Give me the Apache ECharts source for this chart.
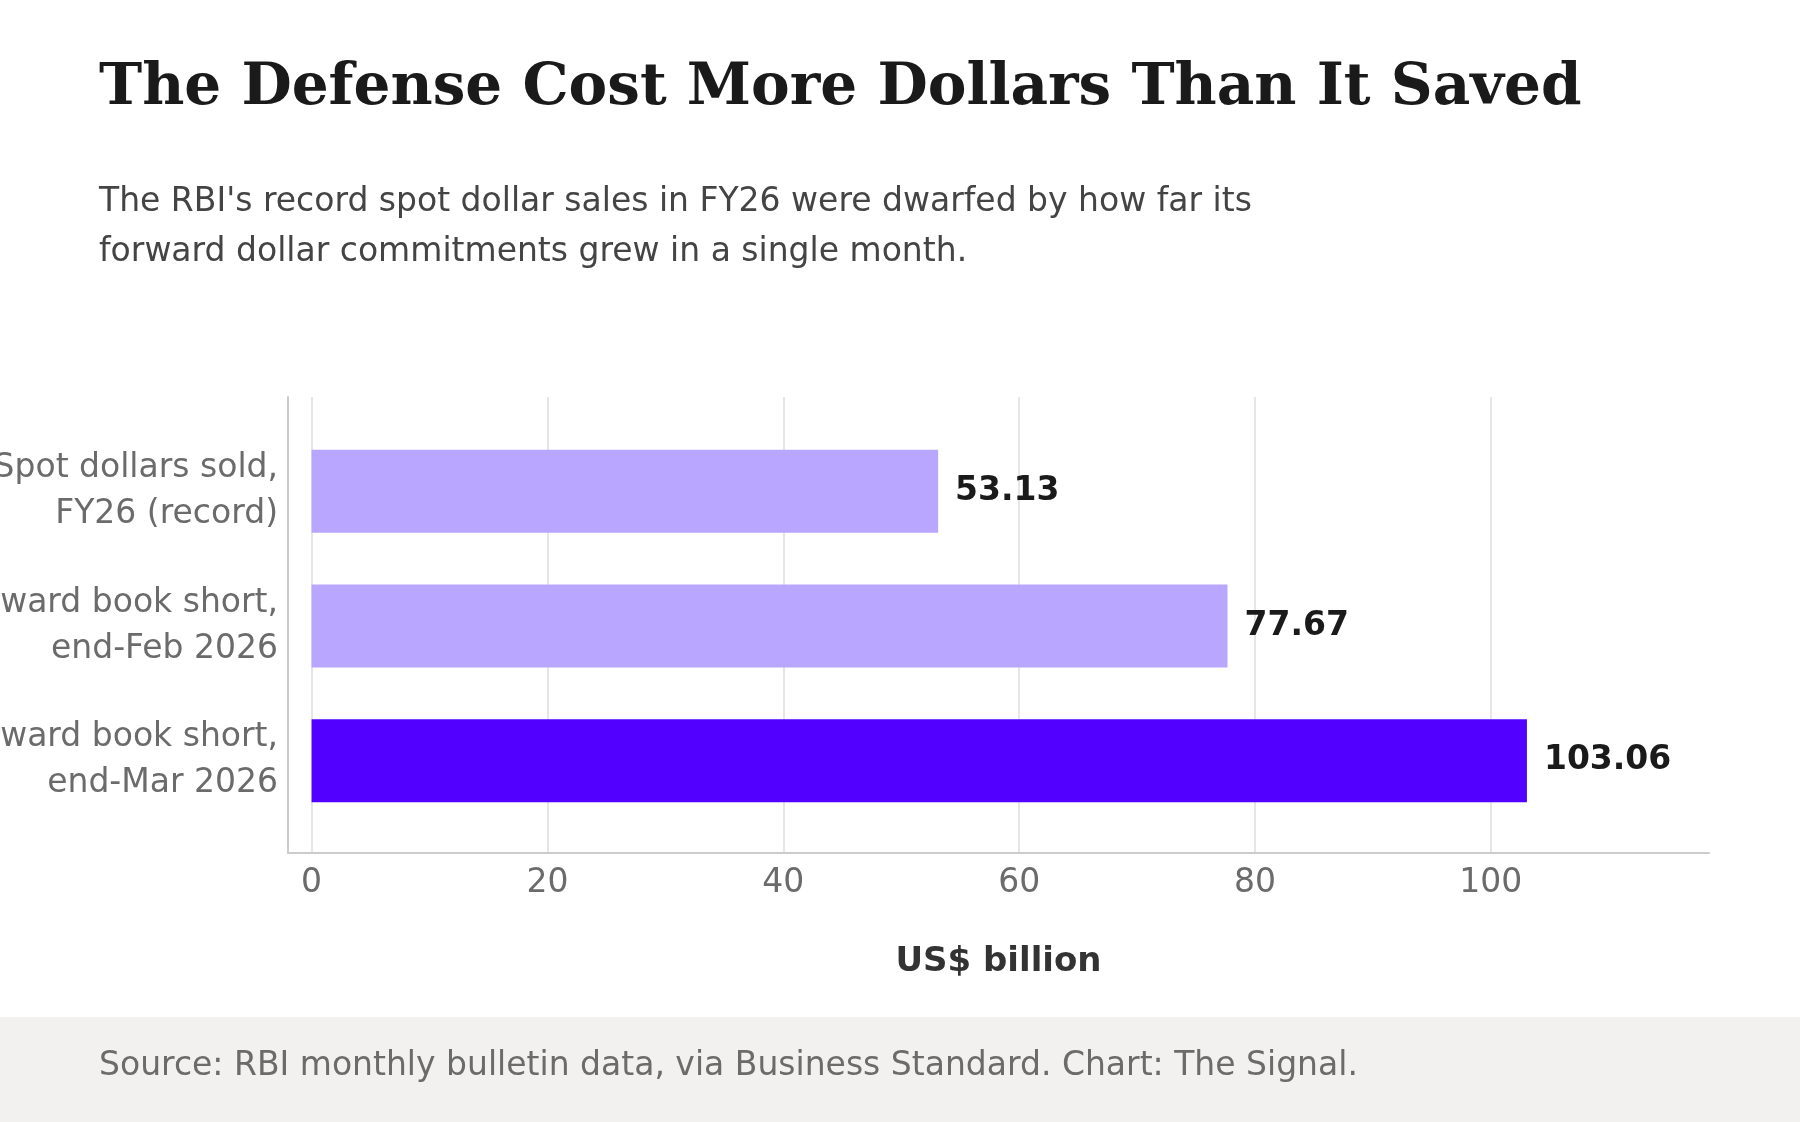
<!DOCTYPE html>
<html>
<head>
<meta charset="utf-8">
<script src="https://cdn.jsdelivr.net/npm/echarts@6/dist/echarts.min.js"></script>
<style>
  html, body { margin: 0; padding: 0; background: #fff; }
  #chart { width: 1800px; height: 1122px; }
</style>
</head>
<body>
<div id="chart"></div>
<script>
var categories = ['Spot dollars sold,\nFY26 (record)', 'Forward book short,\nend-Feb 2026', 'Forward book short,\nend-Mar 2026'];
var values = [53.13, 77.67, 103.06];
var barColors = ['#b8a6ff', '#b8a6ff', '#5200ff'];
var ticks = [0, 20, 40, 60, 80, 100];

var xMin = -2, xMax = 118.5;
var font = 'DejaVu Sans';

var chart = echarts.init(document.getElementById('chart'));
var option = {
  backgroundColor: '#ffffff',
  graphic: [
    { type: 'rect', left: 0, top: 1017, shape: { width: 1800, height: 105 }, style: { fill: '#f2f1f0' }, z: -10 },
    { type: 'text', left: 99, top: 1050, style: { text: 'Source: RBI monthly bulletin data, via Business Standard. Chart: The Signal.', fontFamily: font, fontSize: 33, fill: '#6b6b6b' } },
    { type: 'text', left: 99, top: 60, style: { text: 'The Defense Cost More Dollars Than It Saved', fontFamily: 'DejaVu Serif', fontWeight: 'bold', fontSize: 58, fill: '#1a1a1a' } },
    { type: 'text', left: 99, top: 177, style: { text: "The RBI's record spot dollar sales in FY26 were dwarfed by how far its\nforward dollar commitments grew in a single month.", fontFamily: font, fontSize: 33, fill: '#444444', lineHeight: 50 } }
  ],
  grid: [
    { left: 288, right: 91, top: 397, bottom: 269, outerBoundsMode: 'none', containLabel: false },
    { left: 288, right: 91, top: 424, bottom: 294, outerBoundsMode: 'none', containLabel: false }
  ],
  xAxis: [{
    gridIndex: 0, type: 'value', min: xMin, max: xMax,
    name: 'US$ billion', nameLocation: 'middle', nameGap: 92,
    nameTextStyle: { fontFamily: font, fontSize: 34, fontWeight: 'bold', color: '#333333' },
    axisLine: { show: true, lineStyle: { color: '#cccccc', width: 2 } },
    axisTick: { show: false, customValues: ticks },
    axisLabel: { customValues: ticks, fontFamily: font, fontSize: 33, color: '#6b6b6b', margin: 14 },
    splitLine: { show: true, lineStyle: { color: '#e6e6e6', width: 2 } }
  }, {
    gridIndex: 1, type: 'value', min: xMin, max: xMax, show: false, splitLine: { show: false }
  }],
  yAxis: [{
    gridIndex: 0, type: 'value', min: 0, max: 1,
    axisLine: { show: true, onZero: false, lineStyle: { color: '#cccccc', width: 2 } },
    axisTick: { show: false }, axisLabel: { show: false }, splitLine: { show: false }
  }, {
    gridIndex: 1, type: 'category', data: categories, inverse: true,
    axisLine: { show: false, onZero: false }, axisTick: { show: false },
    axisLabel: { fontFamily: font, fontSize: 33, color: '#6b6b6b', margin: 10, lineHeight: 46, align: 'right' }
  }],
  series: [{
    type: 'bar', xAxisIndex: 1, yAxisIndex: 1, barWidth: 83,
    data: values.map(function (v, i) { return { value: v, itemStyle: { color: barColors[i] } }; }),
    label: { show: true, position: 'right', distance: 17, fontFamily: font, fontSize: 33, fontWeight: 'bold', color: '#1a1a1a',
      formatter: function (p) { return p.value.toFixed(2); } }
  }]
};
chart.setOption(option);
</script>
</body>
</html>
